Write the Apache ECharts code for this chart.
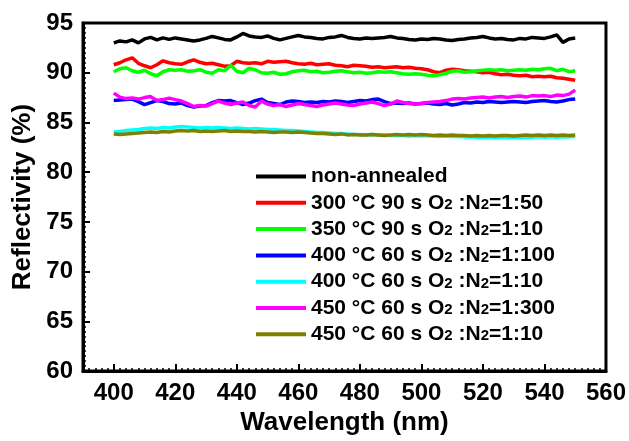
<!DOCTYPE html>
<html>
<head>
<meta charset="utf-8">
<script src="https://cdn.jsdelivr.net/npm/echarts@6/dist/echarts.min.js"></script>
<style>html,body{margin:0;padding:0;background:#fff}#c{width:629px;height:441px}</style>
</head>
<body>
<div id="c"></div>
<script>
const wavelength = [400,402,404,406,408,410,412,414,416,418,420,422,424,426,428,430,432,434,436,438,440,442,444,446,448,450,452,454,456,458,460,462,464,466,468,470,472,474,476,478,480,482,484,486,488,490,492,494,496,498,500,502,504,506,508,510,512,514,516,518,520,522,524,526,528,530,532,534,536,538,540,542,544,546,548,550];

const nonAnnealed = [93.0,93.2,93.1,93.3,93.0,93.4,93.55,93.3,93.5,93.35,93.5,93.4,93.3,93.2,93.3,93.45,93.65,93.5,93.35,93.3,93.6,93.95,93.7,93.6,93.55,93.7,93.45,93.3,93.45,93.6,93.75,93.6,93.55,93.45,93.4,93.55,93.6,93.75,93.55,93.45,93.4,93.5,93.45,93.5,93.55,93.65,93.5,93.45,93.35,93.3,93.4,93.35,93.45,93.4,93.3,93.25,93.35,93.4,93.5,93.55,93.65,93.5,93.4,93.45,93.35,93.3,93.45,93.4,93.55,93.5,93.45,93.6,93.8,93.05,93.4,93.5];
const s300_90_50 = [90.8,91.0,91.3,91.5,90.95,90.7,90.5,90.8,91.2,91.0,90.9,90.85,91.1,91.3,91.05,90.9,90.95,90.8,90.65,90.7,91.15,91.0,90.95,91.0,90.9,91.15,91.05,91.1,91.15,91.0,90.9,90.85,90.95,90.8,90.85,90.9,90.75,90.7,90.6,90.75,90.7,90.65,90.55,90.6,90.5,90.55,90.6,90.5,90.55,90.45,90.4,90.3,90.1,90.0,90.25,90.35,90.3,90.2,90.15,90.1,90.0,90.05,89.9,89.8,89.85,89.75,89.7,89.75,89.6,89.65,89.6,89.65,89.5,89.45,89.35,89.25];
const s350_90_10 = [90.1,90.4,90.5,90.2,90.05,90.25,89.9,89.7,90.1,90.3,90.25,90.3,90.15,90.2,90.3,90.05,89.95,90.3,90.2,90.75,90.15,90.0,90.45,90.3,90.0,89.95,90.05,89.85,89.9,90.1,90.2,90.25,90.1,90.15,90.0,90.05,90.15,90.2,90.1,90.0,90.05,89.95,90.0,90.1,90.05,90.1,90.0,89.9,89.85,89.9,89.85,89.75,89.7,89.8,89.95,90.15,90.2,90.05,90.1,90.2,90.25,90.3,90.25,90.3,90.2,90.25,90.3,90.25,90.35,90.3,90.4,90.45,90.2,90.35,90.1,90.2];
const s400_60_100 = [87.2,87.25,87.3,87.35,87.1,86.8,87.0,87.2,87.1,86.9,86.85,86.95,86.7,86.55,86.65,86.7,87.0,87.2,87.15,87.2,87.0,86.8,86.95,87.2,87.35,87.0,86.9,86.8,87.05,87.15,87.1,87.0,87.05,87.0,87.1,87.05,87.15,87.1,87.0,87.1,87.2,87.15,87.3,87.35,87.1,86.9,86.95,86.9,86.95,86.85,86.9,86.95,86.85,86.8,86.9,86.75,86.85,87.0,86.95,87.05,87.0,87.1,87.05,87.0,87.05,87.1,87.05,87.0,87.1,87.15,87.2,87.1,87.05,87.15,87.3,87.35];
const s400_60_10 = [84.05,84.1,84.2,84.25,84.3,84.4,84.45,84.4,84.5,84.45,84.55,84.6,84.55,84.5,84.45,84.5,84.45,84.5,84.45,84.4,84.45,84.4,84.35,84.4,84.35,84.3,84.3,84.25,84.2,84.2,84.15,84.1,84.05,84.0,84.0,83.95,83.9,83.9,83.85,83.8,83.8,83.75,83.8,83.75,83.75,83.7,83.7,83.7,83.65,83.7,83.65,83.7,83.65,83.6,83.65,83.6,83.6,83.55,83.55,83.5,83.5,83.5,83.45,83.5,83.45,83.5,83.45,83.5,83.5,83.55,83.5,83.55,83.5,83.55,83.55,83.6];
const s450_60_300 = [87.95,87.55,87.4,87.45,87.35,87.5,87.6,87.2,87.3,87.45,87.3,87.15,86.9,86.6,86.7,86.65,86.9,87.15,86.95,86.8,86.95,87.05,86.7,86.55,87.15,86.85,86.7,86.8,86.6,86.75,86.9,86.8,86.7,86.6,86.75,86.85,86.95,86.85,86.75,86.7,86.85,86.95,87.05,86.9,86.7,86.85,87.15,87.0,86.9,86.85,86.9,87.0,87.05,87.1,87.2,87.35,87.4,87.35,87.45,87.5,87.55,87.45,87.55,87.6,87.5,87.6,87.65,87.55,87.7,87.65,87.7,87.6,87.75,87.7,87.85,88.25];
const s450_60_10 = [83.85,83.8,83.85,83.9,83.95,84.0,84.05,84.0,84.1,84.05,84.15,84.2,84.15,84.2,84.1,84.15,84.1,84.15,84.2,84.1,84.15,84.1,84.1,84.05,84.1,84.05,84.0,84.05,84.05,84.0,84.05,84.0,83.95,83.9,83.9,83.85,83.8,83.85,83.75,83.8,83.75,83.75,83.8,83.75,83.7,83.75,83.8,83.75,83.8,83.75,83.8,83.75,83.7,83.75,83.7,83.75,83.7,83.7,83.65,83.7,83.65,83.7,83.65,83.7,83.7,83.65,83.7,83.75,83.7,83.75,83.7,83.75,83.7,83.75,83.7,83.75];

const seriesNames = ['non-annealed','300 °C 90 s O2:N2=1:50','350 °C 90 s O2:N2=1:10','400 °C 60 s O2:N2=1:100','400 °C 60 s O2:N2=1:10','450 °C 60 s O2:N2=1:300','450 °C 60 s O2:N2=1:10'];
const legendRich = ['{n|non-annealed}',
  '{n|300 °C 90 s O}{s|2}{n| :N}{s|2}{n|=1:50}',
  '{n|350 °C 90 s O}{s|2}{n| :N}{s|2}{n|=1:10}',
  '{n|400 °C 60 s O}{s|2}{n| :N}{s|2}{n|=1:100}',
  '{n|400 °C 60 s O}{s|2}{n| :N}{s|2}{n|=1:10}',
  '{n|450 °C 60 s O}{s|2}{n| :N}{s|2}{n|=1:300}',
  '{n|450 °C 60 s O}{s|2}{n| :N}{s|2}{n|=1:10}'];
const seriesValues = [nonAnnealed, s300_90_50, s350_90_10, s400_60_100, s400_60_10, s450_60_300, s450_60_10];
const colors = ['#000000','#ff0000','#00ff00','#0000ff','#00ffff','#ff00ff','#808000'];
const xTickLabels = [400,420,440,460,480,500,520,540,560];

const FONT = 'Liberation Sans';
const chart = echarts.init(document.getElementById('c'), null, {renderer:'canvas'});
chart.setOption({
  animation: false,
  backgroundColor: '#fff',
  color: colors,
  grid: {left: 83, right: 23, top: 23, bottom: 65, show: true, borderColor: '#000', borderWidth: 3, containLabel: false},
  legend: {
    left: 251, top: 161, orient: 'vertical',
    icon: 'rect', itemWidth: 50, itemHeight: 4, itemGap: 5.3,
    data: seriesNames,
    formatter: function (name) { return legendRich[seriesNames.indexOf(name)]; },
    textStyle: {
      rich: {
        n: {fontFamily: FONT, fontWeight: 'bold', fontSize: 21, color: '#000', lineHeight: 21},
        s: {fontFamily: FONT, fontWeight: 'bold', fontSize: 15, color: '#000', lineHeight: 21, verticalAlign: 'bottom', padding: [0, 0, 1, 0]}
      }
    }
  },
  xAxis: [{
    type: 'value', min: 390, max: 560, interval: 2,
    axisLine: {show: true, lineStyle: {color: '#000', width: 3}},
    axisTick: {show: true, inside: true, length: 3, lineStyle: {color: '#000', width: 1.5}},
    axisLabel: {show: false},
    splitLine: {show: false}
  }, {
    type: 'value', min: 390, max: 560, position: 'bottom',
    axisLine: {show: false},
    axisTick: {show: true, inside: true, length: 7, customValues: xTickLabels, lineStyle: {color: '#000', width: 2}},
    axisLabel: {show: true, customValues: xTickLabels, margin: 10, fontFamily: FONT, fontWeight: 'bold', fontSize: 24, color: '#000'},
    splitLine: {show: false},
    name: 'Wavelength (nm)', nameLocation: 'middle', nameGap: 37,
    nameTextStyle: {fontFamily: FONT, fontWeight: 'bold', fontSize: 26, color: '#000'}
  }],
  yAxis: {
    type: 'value', min: 60, max: 95, interval: 5,
    axisLine: {show: true, lineStyle: {color: '#000', width: 3}},
    axisTick: {show: true, inside: true, length: 7, lineStyle: {color: '#000', width: 2}},
    minorTick: {show: true, splitNumber: 10, length: 3, lineStyle: {color: '#000', width: 1.5}},
    axisLabel: {margin: 10, fontFamily: FONT, fontWeight: 'bold', fontSize: 24, color: '#000'},
    splitLine: {show: false},
    name: 'Reflectivity (%)', nameLocation: 'middle', nameGap: 45,
    nameTextStyle: {fontFamily: FONT, fontWeight: 'bold', fontSize: 26, color: '#000'}
  },
  series: seriesNames.map(function (nm, k) {
    return {
      name: nm, type: 'line', xAxisIndex: 0, showSymbol: false, symbol: 'none',
      lineStyle: {width: 3.5, color: colors[k]},
      itemStyle: {color: colors[k]},
      data: wavelength.map(function (w, i) { return [w, seriesValues[k][i]]; })
    };
  })
});
</script>
</body>
</html>
